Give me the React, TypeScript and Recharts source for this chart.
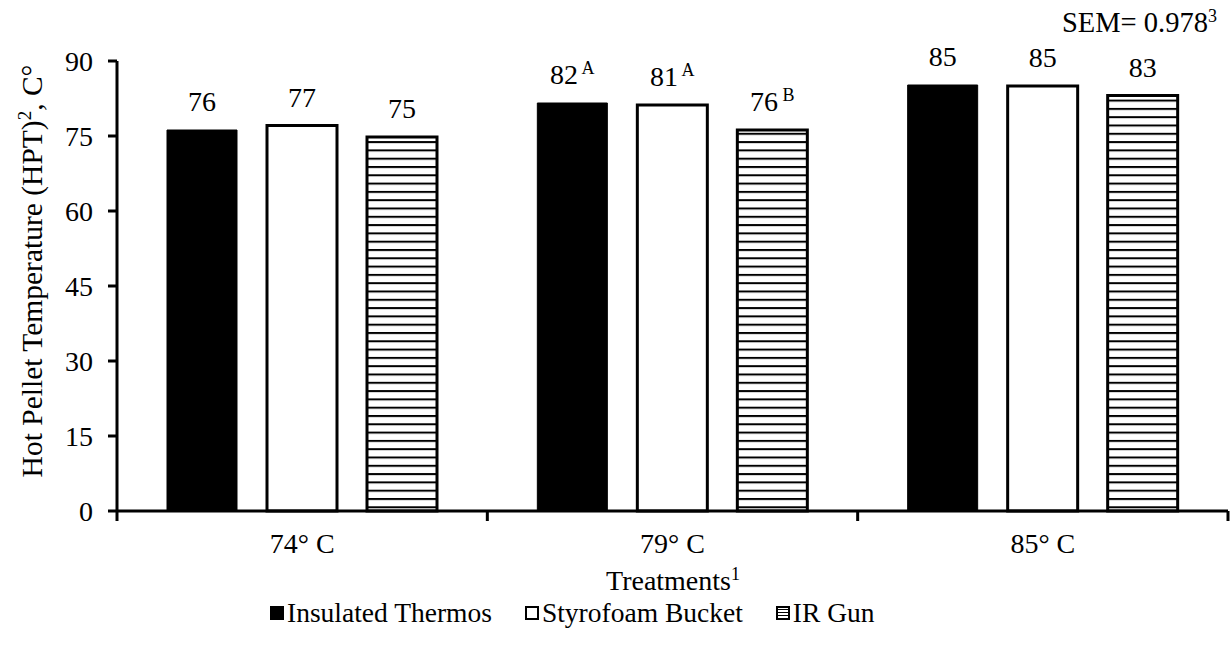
import { Bar, BarChart, LabelList, XAxis, YAxis } from 'recharts';

const treatments = ['74° C', '79° C', '85° C'];
const thermosValues = [76.2, 81.6, 85.2];
const bucketValues = [77.1, 81.2, 85.0];
const irGunValues = [74.8, 76.2, 83.1];
const thermosLabels = ['76', '82', '85'];
const bucketLabels = ['77', '81', '85'];
const irGunLabels = ['75', '76', '83'];
const thermosLetters = ['', 'A', ''];
const bucketLetters = ['', 'A', ''];
const irGunLetters = ['', 'B', ''];
const yTicks = [0, 15, 30, 45, 60, 75, 90];
const seriesNames = ['Insulated Thermos', 'Styrofoam Bucket', 'IR Gun'];

const FONT = '"Liberation Serif", "Times New Roman", serif';

const chartData = treatments.map((name, i) => ({
  name,
  thermos: thermosValues[i],
  bucket: bucketValues[i],
  irGun: irGunValues[i],
}));

function makeLabel(labels: string[], letters: string[]) {
  return (props: any) => {
    const { x, y, width, index } = props;
    const sup = letters[index];
    return (
      <text
        x={Number(x) + Number(width) / 2}
        y={Number(y) - 19}
        textAnchor="middle"
        fontFamily={FONT}
        fontSize={28}
        fill="#000"
      >
        {labels[index]}
        {sup ? (
          <tspan fontSize={18} dy={-10}>
            {'  ' + sup}
          </tspan>
        ) : null}
      </text>
    );
  };
}

function CategoryTick(props: any) {
  const { x, y, payload, index } = props;
  const half = payload?.offset || 185;
  const last = index === treatments.length - 1;
  return (
    <g>
      <line x1={x - half} x2={x - half} y1={y} y2={y + 10} stroke="#000" strokeWidth={3} />
      {last ? <line x1={x + half} x2={x + half} y1={y} y2={y + 10} stroke="#000" strokeWidth={3} /> : null}
      <text x={x} y={y + 42} textAnchor="middle" fontFamily={FONT} fontSize={28} fill="#000">
        {payload.value}
      </text>
    </g>
  );
}

function Swatch({ kind }: { kind: number }) {
  const fill = kind === 0 ? '#000' : kind === 1 ? '#fff' : 'url(#hatchSmall)';
  return (
    <svg width={14} height={14} style={{ marginRight: 3 }}>
      <rect x={1} y={1} width={12} height={12} fill={fill} stroke="#000" strokeWidth={2} />
    </svg>
  );
}

export default function App() {
  return (
    <div style={{ position: 'absolute', left: 0, top: 0, width: 1231, height: 650, background: '#fff', fontFamily: FONT }}>
      <svg width={0} height={0} style={{ position: 'absolute' }}>
        <defs>
          <pattern id="hatch" patternUnits="userSpaceOnUse" width={8} height={8.3}>
            <rect x={0} y={0} width={8} height={8.3} fill="#fff" />
            <rect x={0} y={0} width={8} height={2} fill="#000" />
          </pattern>
          <pattern id="hatchSmall" patternUnits="userSpaceOnUse" width={4} height={3}>
            <rect x={0} y={0} width={4} height={3} fill="#fff" />
            <rect x={0} y={0} width={4} height={1} fill="#000" />
          </pattern>
        </defs>
      </svg>
      <BarChart
        width={1231}
        height={650}
        data={chartData}
        margin={{ top: 61, right: 3, left: 0, bottom: 0 }}
        barGap={30}
        barSize={70}
      >
        <XAxis
          dataKey="name"
          height={139}
          axisLine={{ stroke: '#000', strokeWidth: 3 }}
          tickLine={false}
          tickSize={0}
          tickMargin={0}
          interval={0}
          tick={<CategoryTick />}
        />
        <YAxis
          width={117}
          domain={[0, 90]}
          ticks={yTicks}
          interval={0}
          axisLine={{ stroke: '#000', strokeWidth: 3 }}
          tickLine={{ stroke: '#000', strokeWidth: 3 }}
          tickSize={9}
          tickMargin={15}
          tick={{ fill: '#000', fontSize: 28, fontFamily: FONT }}
        />
        <Bar dataKey="thermos" name={seriesNames[0]} fill="#000" stroke="#000" strokeWidth={1} isAnimationActive={false}>
          <LabelList dataKey="thermos" content={makeLabel(thermosLabels, thermosLetters)} />
        </Bar>
        <Bar dataKey="bucket" name={seriesNames[1]} fill="#fff" stroke="#000" strokeWidth={3} isAnimationActive={false}>
          <LabelList dataKey="bucket" content={makeLabel(bucketLabels, bucketLetters)} />
        </Bar>
        <Bar dataKey="irGun" name={seriesNames[2]} fill="url(#hatch)" stroke="#000" strokeWidth={3} isAnimationActive={false}>
          <LabelList dataKey="irGun" content={makeLabel(irGunLabels, irGunLetters)} />
        </Bar>
      </BarChart>

      <svg width={1231} height={650} style={{ position: 'absolute', left: 0, top: 0, pointerEvents: 'none' }}>
        <text x={42} y={271} transform="rotate(-90 42 271)" textAnchor="middle" fontFamily={FONT} fontSize={29.5} fill="#000">
          Hot Pellet Temperature (HPT)
          <tspan fontSize={19} dy={-11}>2</tspan>
          <tspan dy={11}>, C°</tspan>
        </text>
        <text x={673} y={590} textAnchor="middle" fontFamily={FONT} fontSize={28} fill="#000">
          Treatments
          <tspan fontSize={18} dy={-10}>1</tspan>
        </text>
        <text x={1062} y={32} fontFamily={FONT} fontSize={28.5} fill="#000">
          SEM= 0.978
          <tspan fontSize={18} dy={-10}>3</tspan>
        </text>
      </svg>

      <div
        style={{
          position: 'absolute',
          left: 270,
          top: 598,
          display: 'flex',
          alignItems: 'center',
          fontSize: 27.5,
          lineHeight: '30px',
          color: '#000',
          whiteSpace: 'nowrap',
        }}
      >
        {seriesNames.map((name, i) => (
          <div key={name} style={{ display: 'flex', alignItems: 'center', marginRight: i < 2 ? 33 : 0 }}>
            <Swatch kind={i} />
            <span>{name}</span>
          </div>
        ))}
      </div>
    </div>
  );
}
